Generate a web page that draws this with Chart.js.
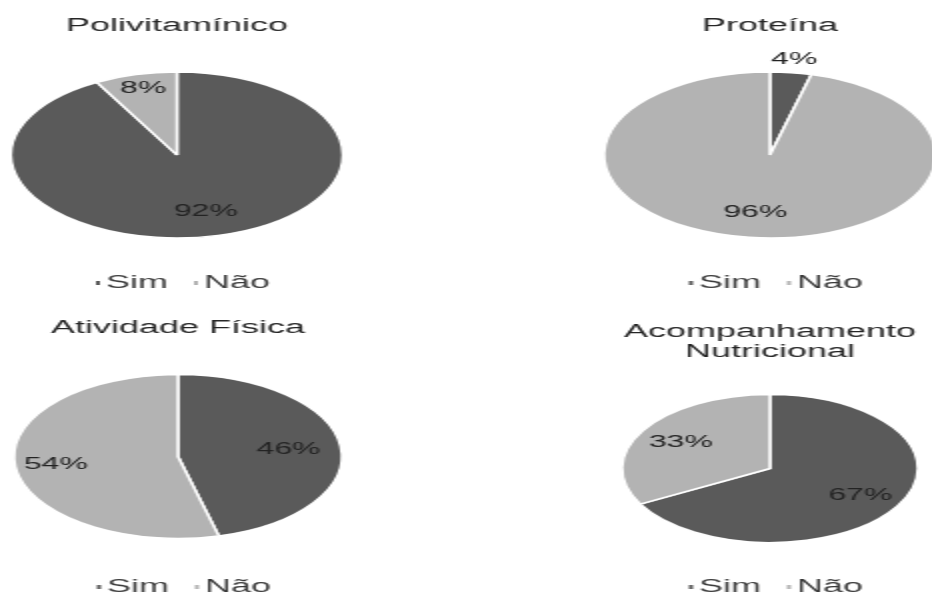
<!DOCTYPE html>
<html>
<head>
<meta charset="utf-8">
<script src="https://cdn.jsdelivr.net/npm/chart.js@4.4.1/dist/chart.umd.min.js"></script>
<style>
    html, body { margin: 0; padding: 0; background: #fff; }
    body { width: 932px; height: 593px; overflow: hidden; position: relative; }
    /* the reference picture is stretched sideways 2x, so every canvas is too */
    canvas { position: absolute; transform: scaleX(2); transform-origin: 0 0; }
</style>
</head>
<body>
<canvas id="c1" width="177" height="300" style="left:0px;top:0px"></canvas>
<canvas id="c2" width="180" height="300" style="left:590px;top:0px"></canvas>
<canvas id="c3" width="178" height="293" style="left:0px;top:300px"></canvas>
<canvas id="c4" width="180" height="293" style="left:590px;top:300px"></canvas>
<script>
const labels = ['Sim', 'Não'];
const polivitaminico = [92, 8];
const proteina = [4, 96];
const atividadeFisica = [46, 54];
const acompanhamento = [67, 33];
const titles = ['Polivitamínico', 'Proteína', 'Atividade Física', ['Acompanhamento', 'Nutricional']];
const colors = ['#5a5a5a', '#b3b3b3'];

const FONT = "'Liberation Sans', Arial, sans-serif";

// percent labels on the slices + small square legend
const pieExtras = {
    id: 'pieExtras',
    afterDatasetsDraw(chart, args, opts) {
        const ctx = chart.ctx;
        const data = chart.data.datasets[0].data;
        const total = data.reduce((a, b) => a + b, 0);
        ctx.save();
        ctx.font = '16px ' + FONT;
        ctx.fillStyle = '#232323';
        ctx.textAlign = 'center';
        ctx.textBaseline = 'middle';
        chart.getDatasetMeta(0).data.forEach((arc, i) => {
            const mid = (arc.startAngle + arc.endAngle) / 2;
            const r = arc.outerRadius * opts.labelR[i];
            const x = arc.x + Math.cos(mid) * r;
            const y = arc.y + Math.sin(mid) * r;
            ctx.fillText(Math.round(data[i] / total * 100) + '%', x, y);
        });
        ctx.restore();
    },
    afterDraw(chart, args, opts) {
        const ctx = chart.ctx;
        const arc = chart.getDatasetMeta(0).data[0];
        ctx.save();
        ctx.font = '18px ' + FONT;
        ctx.textBaseline = 'middle';
        const boxW = 2, boxH = 4, gap = 3, spacing = 13;
        const widths = chart.data.labels.map(t => ctx.measureText(t).width);
        let total = 0;
        widths.forEach((w, i) => { total += boxW + gap + w + (i ? spacing : 0); });
        let x = arc.x - total / 2 + 3;
        const y = opts.legendY;
        chart.data.labels.forEach((t, i) => {
            ctx.fillStyle = colors[i];
            ctx.fillRect(x, y - boxH / 2, boxW, boxH);
            x += boxW + gap;
            ctx.fillStyle = '#3c3c3c';
            ctx.fillText(t, x, y);
            x += widths[i] + spacing;
        });
        ctx.restore();
    }
};

function makePie(id, values, title, cfg) {
    return new Chart(document.getElementById(id), {
        type: 'pie',
        data: {
            labels: labels,
            datasets: [{
                data: values,
                backgroundColor: colors,
                borderColor: '#ffffff',
                borderWidth: 1.5
            }]
        },
        options: {
            responsive: false,
            animation: false,
            radius: cfg.radius,
            layout: { padding: { top: 0, left: 0, right: 0, bottom: cfg.padBottom } },
            plugins: {
                title: {
                    display: true,
                    text: title,
                    color: '#262626',
                    font: { size: 18, family: FONT, weight: 'normal', lineHeight: cfg.lineHeight },
                    padding: { top: cfg.titlePad, bottom: 0 }
                },
                legend: { display: false },
                tooltip: { enabled: false },
                pieExtras: { labelR: cfg.labelR, legendY: cfg.legendY }
            }
        },
        plugins: [pieExtras]
    });
}

makePie('c1', polivitaminico, titles[0], { titlePad: 17, lineHeight: 1.0, padBottom: 25, radius: 83, legendY: 283, labelR: [0.7, 0.82] });
makePie('c2', proteina, titles[1], { titlePad: 17, lineHeight: 1.0, padBottom: 25, radius: 83, legendY: 283, labelR: [1.16, 0.7] });
makePie('c3', atividadeFisica, titles[2], { titlePad: 19, lineHeight: 1.0, padBottom: 17, radius: 82, legendY: 287, labelR: [0.68, 0.75] });
makePie('c4', acompanhamento, titles[3], { titlePad: 22, lineHeight: 1.11, padBottom: 18, radius: 74, legendY: 287, labelR: [0.71, 0.7] });
</script>
</body>
</html>
